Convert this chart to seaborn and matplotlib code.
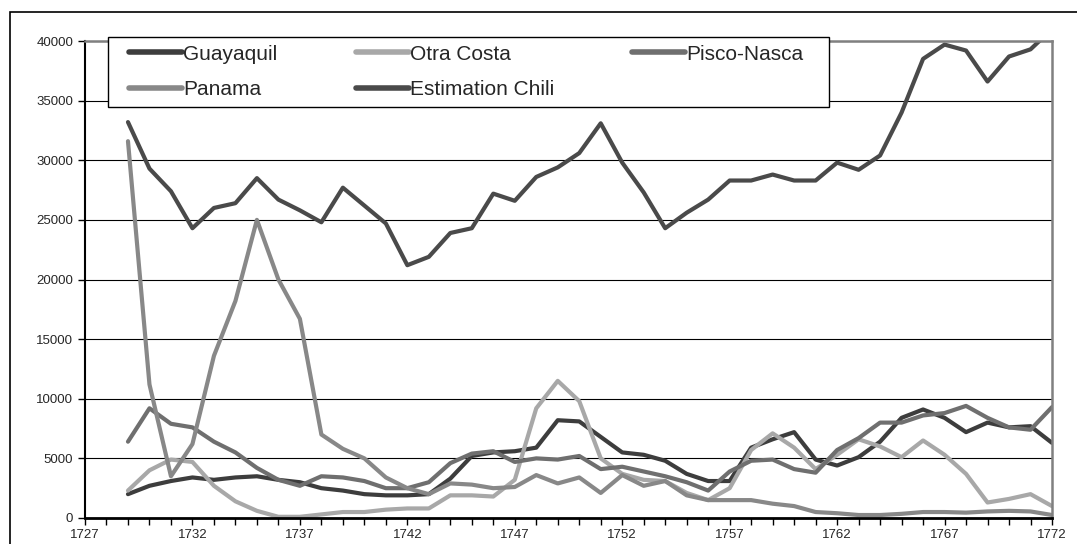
import pandas as pd
import seaborn as sns
import matplotlib.pyplot as plt
from matplotlib.patches import Rectangle
from matplotlib.ticker import MultipleLocator

# Data (1729-1772)
years = list(range(1729, 1773))
guayaquil = [2000, 2700, 3100, 3400, 3200, 3400, 3500, 3200, 3000, 2500,
             2300, 2000, 1900, 1900, 2000, 3300, 5200, 5500, 5600, 5900,
             8200, 8100, 6800, 5500, 5300, 4800, 3700, 3100, 3100, 5900,
             6600, 7200, 4900, 4400, 5100, 6400, 8400, 9100, 8400, 7200,
             8000, 7600, 7700, 6300]
otra_costa = [2300, 4000, 4900, 4700, 2700, 1400, 600, 100, 100, 300,
              500, 500, 700, 800, 800, 1900, 1900, 1800, 3200, 9200,
              11500, 9800, 5000, 3700, 3200, 3100, 2100, 1500, 2500, 5700,
              7100, 5900, 4100, 5300, 6600, 6000, 5100, 6500, 5300, 3700,
              1300, 1600, 2000, 1000]
pisco_nasca = [6400, 9200, 7900, 7600, 6400, 5500, 4200, 3200, 2700, 3500,
               3400, 3100, 2500, 2500, 3000, 4600, 5400, 5600, 4700, 5000,
               4900, 5200, 4100, 4300, 3900, 3500, 3000, 2300, 3900, 4800,
               4900, 4100, 3800, 5700, 6700, 8000, 8000, 8600, 8800, 9400,
               8400, 7600, 7400, 9300]
panama = [31600, 11200, 3500, 6200, 13600, 18200, 25000, 20000, 16700, 7000,
          5800, 5000, 3400, 2500, 2000, 2900, 2800, 2500, 2600, 3600,
          2900, 3400, 2100, 3600, 2700, 3100, 1900, 1500, 1500, 1500,
          1200, 1000, 500, 400, 250, 250, 350, 500, 500, 450,
          550, 600, 550, 250]
chili = [33200, 29300, 27400, 24300, 26000, 26400, 28500, 26700, 25800, 24800,
         27700, 26200, 24700, 21200, 21900, 23900, 24300, 27200, 26600, 28600,
         29400, 30600, 33100, 29800, 27300, 24300, 25600, 26700, 28300, 28300,
         28800, 28300, 28300, 29800, 29200, 30400, 34000, 38500, 39700, 39200,
         36600, 38700, 39300, 41000]

series = {
    "Guayaquil": (guayaquil, "#3d3d3d"),
    "Otra Costa": (otra_costa, "#a8a8a8"),
    "Pisco-Nasca": (pisco_nasca, "#6f6f6f"),
    "Panama": (panama, "#888888"),
    "Estimation Chili": (chili, "#4a4a4a"),
}

sns.set_style("white")
plt.rcParams["font.family"] = ["Liberation Sans", "DejaVu Sans"]

fig = plt.figure(figsize=(10.77, 5.44), dpi=100)
ax = fig.add_axes([85 / 1077, 26 / 544, 967 / 1077, 477 / 544])

lines = {}
for name, (vals, col) in series.items():
    df = pd.DataFrame({"year": years, "value": vals})
    sns.lineplot(data=df, x="year", y="value", color=col, linewidth=3,
                 ax=ax, label=name, legend=False)
    lines[name] = ax.get_lines()[-1]

ax.set_xlim(1727, 1772)
ax.set_ylim(0, 40000)
ax.set_xlabel("")
ax.set_ylabel("")
ax.xaxis.set_minor_locator(MultipleLocator(1))
ax.yaxis.set_major_locator(MultipleLocator(5000))
ax.set_xticks(range(1727, 1773, 5))
ax.tick_params(axis="both", which="both", direction="out", length=5,
               width=1, color="black", labelsize=9.5, bottom=True, left=True)
ax.tick_params(axis="x", pad=3)
ax.yaxis.grid(True, color="black", linewidth=0.8)
ax.xaxis.grid(False)

ax.spines["left"].set_color("black")
ax.spines["left"].set_linewidth(1.5)
ax.spines["bottom"].set_color("black")
ax.spines["bottom"].set_linewidth(2)
for s in ("top", "right"):
    ax.spines[s].set_color("#808080")
    ax.spines[s].set_linewidth(1.8)

# legend box drawn separately so its padding can match the original
ax.add_patch(Rectangle((0.0238, 0.8616), 0.7456, 0.1468, transform=ax.transAxes,
                       facecolor="white", edgecolor="black", linewidth=1,
                       zorder=4, clip_on=False))

order = ["Guayaquil", "Panama", "Otra Costa", "Estimation Chili", "Pisco-Nasca"]
leg = ax.legend([lines[n] for n in order], order, ncol=3, loc="upper left",
                bbox_to_anchor=(0.0455, 0.9925), borderaxespad=0,
                borderpad=0, fontsize=15, handlelength=2.55,
                handletextpad=0.05, labelspacing=0.78, columnspacing=3.75,
                frameon=False)
leg.set_zorder(5)
for h in leg.get_lines():
    h.set_linewidth(4)

# outer chart border
fig.add_artist(Rectangle((10 / 1077, -0.1), 1.2, 0.1 + (544 - 12) / 544,
                         transform=fig.transFigure, fill=False,
                         edgecolor="black", linewidth=1.2))

fig.savefig("out.png", dpi=100)
